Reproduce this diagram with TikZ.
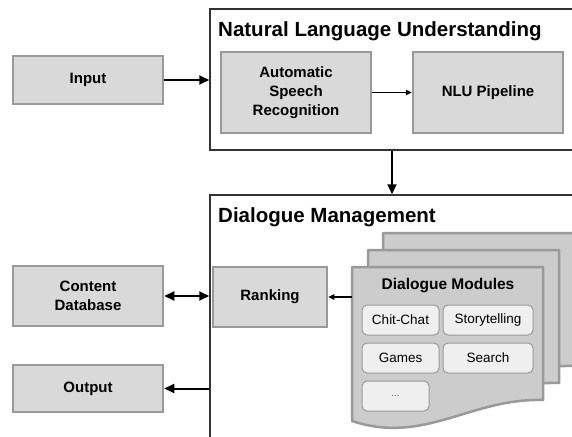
\documentclass[tikz,border=0pt]{standalone}
\usepackage{fontspec}
\setmainfont{Liberation Sans}
\usetikzlibrary{arrows.meta,calc}
\definecolor{boxfill}{HTML}{D9D9D9}
\definecolor{boxline}{HTML}{999999}
\definecolor{docfill}{HTML}{CCCCCC}
\definecolor{subfill}{HTML}{EFEFEF}
\definecolor{frameline}{HTML}{333333}
\tikzset{
  graybox/.style={draw=boxline, fill=boxfill, line width=2.5pt, inner sep=0pt,
    align=center, font=\fontsize{15}{19}\selectfont\bfseries},
  framebox/.style={draw=frameline, fill=white, line width=1.5pt, inner sep=0pt},
  subbox/.style={draw=boxline, fill=subfill, line width=1pt, rounded corners=5pt,
    inner sep=0pt, minimum height=30pt, font=\fontsize{13.5}{16}\selectfont},
  docshape/.style={draw=boxline, fill=docfill, line width=2.5pt, line join=round},
  bigarrow/.style={line width=2pt, -{Triangle[length=10pt,width=9pt]}},
  bigdouble/.style={line width=2pt, {Triangle[length=10pt,width=9pt]}-{Triangle[length=10pt,width=9pt]}},
  smallarrow/.style={line width=1.3pt, -{Triangle[length=6pt,width=5.5pt]}},
  titletext/.style={anchor=base west, inner sep=0pt, font=\fontsize{20.5}{24}\selectfont\bfseries},
}
\begin{document}
\begin{tikzpicture}[x=1pt,y=-1pt]
\useasboundingbox (0,0) rectangle (572,436);
\clip (0,0) rectangle (572,436);
\fill[white] (0,0) rectangle (572,436);

% outer frames
\node[framebox, minimum width=390pt, minimum height=141pt] (nlubox) at (405,79.5) {};
\node[framebox, minimum width=390pt, minimum height=255pt] (dmbox) at (405,322.5) {};
\node[titletext] (nlutitle) at (218,37) {Natural Language Understanding};
\node[titletext] (dmtitle) at (218,222) {Dialogue Management};

% left boxes
\node[graybox, minimum width=150pt, minimum height=48pt] (input) at (88,80) {Input};
\node[graybox, minimum width=150pt, minimum height=60pt] (cdb) at (88,296) {Content\\Database};
\node[graybox, minimum width=150pt, minimum height=47pt] (output) at (88,388.5) {Output};

% NLU inner boxes
\node[graybox, minimum width=150pt, minimum height=81pt] (asr) at (296,92.5) {Automatic\\Speech\\Recognition};
\node[graybox, minimum width=150pt, minimum height=81pt] (nlupipe) at (488,92.5) {NLU Pipeline};

% Ranking
\node[graybox, minimum width=114pt, minimum height=60pt] (ranking) at (270,297) {Ranking};

% stacked documents
\foreach \dx/\dy in {31/-34,16/-17,0/0}{
  \begin{scope}[shift={(\dx,\dy)}]
  \path[docshape] (352,267) -- (543,267) -- (543,400)
     .. controls (470,398) and (425,445) .. (352,421) -- cycle;
  \end{scope}
}
\coordinate (docw) at (352,297);
\node[inner sep=0pt, font=\fontsize{15.5}{18}\selectfont\bfseries] (dmtext) at (448,286) {Dialogue Modules};
\node[subbox, minimum width=77pt] (chit) at (400.5,320) {Chit-Chat};
\node[subbox, minimum width=90pt] (story) at (488,320) {Storytelling};
\node[subbox, minimum width=77pt] (games) at (400.5,358) {Games};
\node[subbox, minimum width=90pt] (search) at (488,358) {Search};
\node[subbox, minimum width=67pt, text=black!60, font=\fontsize{10}{12}\selectfont] (more) at (395.5,396) {...};

% connectors
\draw[bigarrow] (input.east) -- (input.east -| nlubox.west);
\draw[smallarrow] (asr.east) -- (nlupipe.west);
\coordinate (mid) at ($(asr.east)!0.5!(nlupipe.west)$);
\draw[bigarrow] (nlubox.south -| mid) -- (dmbox.north -| mid);
\draw[bigdouble] (cdb.east) -- (cdb.east -| dmbox.west);
\draw[bigarrow] (output.east -| dmbox.west) -- (output.east);
\draw[smallarrow] (docw) -- (docw -| ranking.east);
\end{tikzpicture}
\end{document}
